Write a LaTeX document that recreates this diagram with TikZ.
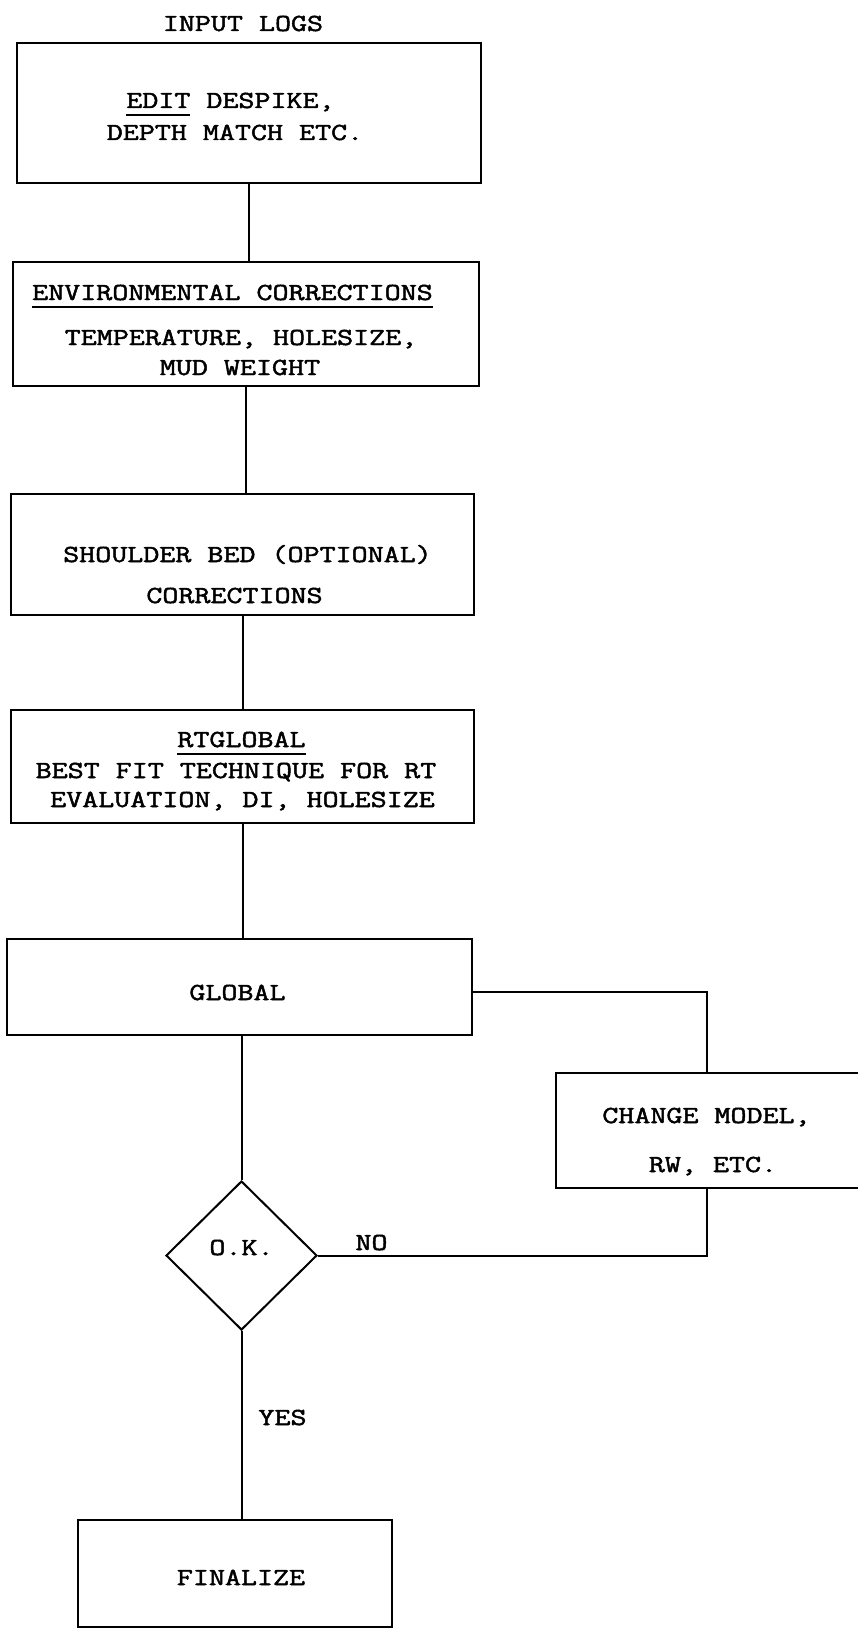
\documentclass[tikz,border=0pt]{standalone}
\usepackage{fontspec}
\usetikzlibrary{shapes.geometric}
\newfontfamily\tw[FakeStretch=1.27,FakeBold=2]{Latin Modern Mono}
\newcommand\myul[1]{\setbox0=\hbox{#1}\rlap{\rule[-8pt]{\wd0}{1.8pt}}\box0\relax}
\tikzset{
  box/.style={draw, line width=2pt, inner sep=0pt},
  lbl/.style={inner sep=0pt, anchor=base, font=\tw\fontsize{24.5}{29}\selectfont},
  conn/.style={line width=2pt}
}
\begin{document}
\begin{tikzpicture}[x=1pt,y=-1pt]
\useasboundingbox (0,0) rectangle (858,1629);
\clip (0,0) rectangle (858,1629);
\fill[white] (0,0) rectangle (858,1629);
% boxes
\node[box, minimum width=464pt, minimum height=140pt] (box1) at (249,113) {};
\node[box, minimum width=466pt, minimum height=124pt] (box2) at (246,324) {};
\node[box, minimum width=463pt, minimum height=121pt] (box3) at (242.5,554.5) {};
\node[box, minimum width=463pt, minimum height=113pt] (box4) at (242.5,766.5) {};
\node[box, minimum width=465pt, minimum height=96pt] (box5) at (239.5,987) {};
\node[box, minimum width=314pt, minimum height=115pt] (chg) at (713,1130.5) {};
\node[box, minimum width=314pt, minimum height=107pt] (fin) at (235,1573.5) {};
\node[box, diamond, minimum width=151pt, minimum height=149pt] (dia) at (241.5,1255.5) {};
% texts
\node[lbl] (il) at (243,31) {INPUT LOGS};
\node[lbl] (e1) at (230.5,108) {\myul{EDIT} DESPIKE,};
\node[lbl] (e2) at (235,140) {DEPTH MATCH ETC.};
\node[lbl] (v1) at (232.5,300) {\myul{ENVIRONMENTAL CORRECTIONS}};
\node[lbl] (v2) at (241,345) {TEMPERATURE, HOLESIZE,};
\node[lbl] (v3) at (240,375) {MUD WEIGHT};
\node[lbl] (s1) at (247.5,562) {SHOULDER BED (OPTIONAL)};
\node[lbl] (s2) at (234.5,603) {CORRECTIONS};
\node[lbl] (r1) at (241.5,747) {\myul{RTGLOBAL}};
\node[lbl] (r2) at (236,778) {BEST FIT TECHNIQUE FOR RT};
\node[lbl] (r3) at (242.5,807) {EVALUATION, DI, HOLESIZE};
\node[lbl] (g) at (237.5,1000) {GLOBAL};
\node[lbl] (c1) at (706.5,1123) {CHANGE MODEL,};
\node[lbl] (c2) at (713,1172) {RW, ETC.};
\node[lbl] (ok) at (241.5,1255) {O.K.};
\node[lbl] (no) at (371.5,1250) {NO};
\node[lbl] (yes) at (282.5,1425) {YES};
\node[lbl] (ft) at (241,1585) {FINALIZE};
% connectors
\draw[conn] (box1.south) -- (box1.south |- box2.north);
\draw[conn] (box2.south) -- (box2.south |- box3.north);
\draw[conn] (box3.south) -- (box3.south |- box4.north);
\draw[conn] (box4.south) -- (box4.south |- box5.north);
\draw[conn] (dia.north |- box5.south) -- (dia.north);
\draw[conn] ([yshift=-5pt]box5.east) -- ([yshift=-5pt]box5.east -| c1) -- (c1 |- chg.north);
\draw[conn] (c1 |- chg.south) -- (c1 |- dia.east) -- (dia.east);
\draw[conn] (dia.south) -- (dia.south |- fin.north);
\end{tikzpicture}
\end{document}
